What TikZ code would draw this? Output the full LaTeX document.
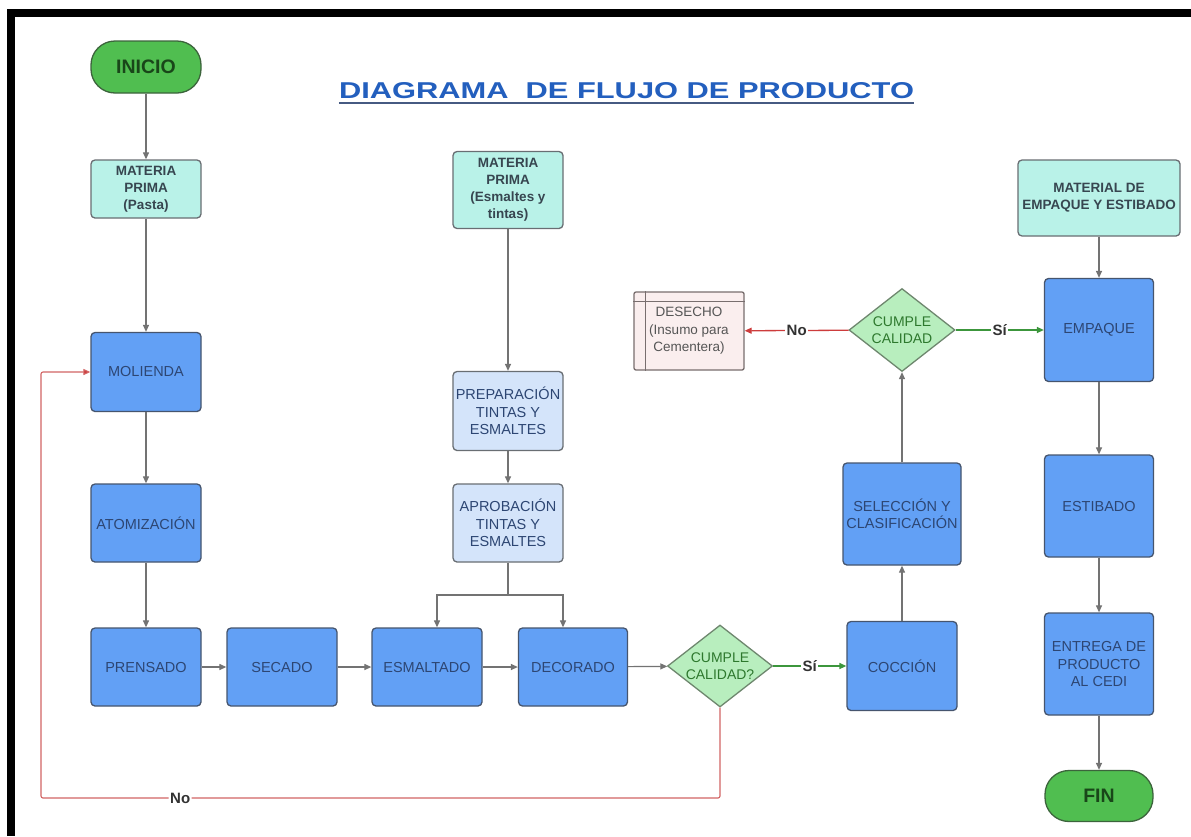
\documentclass[tikz,border=0pt]{standalone}
\usepackage{fontspec}
\usepackage{graphicx}
\setmainfont{Liberation Sans}
\usetikzlibrary{shapes.geometric,arrows.meta}

\definecolor{procblue}{RGB}{98,160,245}
\definecolor{procborder}{RGB}{70,85,110}
\definecolor{proctext}{RGB}{45,70,115}
\definecolor{matcyan}{RGB}{185,242,232}
\definecolor{lightblue}{RGB}{212,228,250}
\definecolor{grayborder}{RGB}{105,110,115}
\definecolor{mattext}{RGB}{55,70,80}
\definecolor{diafill}{RGB}{184,238,190}
\definecolor{diaborder}{RGB}{110,135,110}
\definecolor{diatext}{RGB}{45,120,45}
\definecolor{termfill}{RGB}{80,190,80}
\definecolor{termborder}{RGB}{60,100,60}
\definecolor{termtext}{RGB}{25,70,25}
\definecolor{conngray}{RGB}{115,115,115}
\definecolor{connred}{RGB}{205,60,60}
\definecolor{loopred}{RGB}{210,100,100}
\definecolor{conngreen}{RGB}{60,150,60}
\definecolor{titleblue}{RGB}{35,95,190}
\definecolor{titleline}{RGB}{70,90,130}
\definecolor{desfill}{RGB}{250,238,238}
\definecolor{desborder}{RGB}{120,110,110}
\definecolor{destext}{RGB}{85,85,85}
\definecolor{lbltext}{RGB}{50,50,50}

\begin{document}
\begin{tikzpicture}[x=1pt,y=-1pt,
  proc/.style={draw=procborder, fill=procblue, rounded corners=4pt, line width=1.3pt,
    minimum width=110pt, minimum height=78pt, align=center,
    font=\fontsize{14.5}{17.5}\selectfont, text=proctext, inner sep=0pt},
  matbox/.style={draw=grayborder, fill=matcyan, rounded corners=4pt, line width=1.3pt,
    minimum width=110pt, align=center,
    font=\bfseries\fontsize{13.5}{17}\selectfont, text=mattext, inner sep=0pt},
  prepbox/.style={draw=grayborder, fill=lightblue, rounded corners=4pt, line width=1.3pt,
    minimum width=110pt, minimum height=78pt, align=center,
    font=\fontsize{14.5}{17.5}\selectfont, text=proctext, inner sep=0pt},
  decision/.style={diamond, draw=diaborder, fill=diafill, line width=1.3pt, aspect=1.28,
    inner sep=0pt, minimum width=105pt, minimum height=82pt, align=center,
    font=\fontsize{14}{17}\selectfont, text=diatext},
  term/.style={draw=termborder, fill=termfill, rounded corners=24pt, line width=1.3pt,
    minimum width=110pt, minimum height=52pt,
    font=\bfseries\fontsize{19.5}{20}\selectfont, text=termtext, inner sep=0pt},
  desbox/.style={draw=desborder, fill=desfill, rounded corners=2pt, line width=1.3pt,
    minimum width=110pt, minimum height=78pt, align=center,
    font=\fontsize{13.5}{17.5}\selectfont, text=destext, inner sep=0pt},
  conn/.style={draw=conngray, line width=1.2pt, -{Triangle[length=7pt,width=6pt]}},
  conngr/.style={draw=conngreen, line width=1.3pt, -{Triangle[length=7pt,width=6pt]}},
  connrd/.style={draw=connred, line width=1.3pt, -{Triangle[length=7pt,width=6pt]}},
  looprd/.style={draw=loopred, line width=1.1pt, rounded corners=2pt, -{Triangle[length=7pt,width=6pt,fill=connred]}},
  lbl/.style={fill=white, inner sep=1.5pt, font=\bfseries\fontsize{15}{15}\selectfont, text=lbltext}
]
\fill[white] (0,0) rectangle (1191,836);
\useasboundingbox (0,0) rectangle (1191,836);
% frame
\fill[black] (7,9) rectangle (1191,17);
\fill[black] (7,9) rectangle (15,836);

% title
\node[inner sep=0pt, anchor=south, text=titleblue] (title) at (626.5,99)
  {\resizebox{575pt}{16pt}{\bfseries\fontsize{21}{21}\selectfont DIAGRAMA\ \ DE FLUJO DE PRODUCTO}};
\draw[titleline, line width=2pt] ([yshift=-3.5pt]title.south west) -- ([yshift=-3.5pt]title.south east);

% column 1
\node[term] (ini) at (146,67) {INICIO};
\node[matbox, minimum height=58pt] (matP) at (146,189) {MATERIA\\PRIMA\\(Pasta)};
\node[proc, minimum height=79pt] (mol) at (146,372) {MOLIENDA};
\node[proc] (atom) at (146,523) {ATOMIZACIÓN};
\node[proc] (pren) at (146,667) {PRENSADO};
\node[proc] (sec) at (282,667) {SECADO};
\node[proc] (esm) at (427,667) {ESMALTADO};
\node[proc, minimum width=109pt] (deco) at (573,667) {DECORADO};

% middle column
\node[matbox, minimum height=77pt] (matE) at (508,190) {MATERIA\\PRIMA\\(Esmaltes y\\tintas)};
\node[prepbox, minimum height=79pt] (prep) at (508,411) {PREPARACIÓN\\TINTAS Y\\ESMALTES};
\node[prepbox] (apro) at (508,523) {APROBACIÓN\\TINTAS Y\\ESMALTES};

% quality 1 and firing
\node[decision] (dia1) at (720,666) {CUMPLE\\CALIDAD?};
\node[proc, minimum height=89pt] (cocc) at (902,666) {COCCIÓN};
\node[proc, minimum width=118pt, minimum height=102pt] (sel) at (902,514) {SELECCIÓN Y\\CLASIFICACIÓN};
\node[decision, minimum width=106pt, minimum height=83pt] (dia2) at (902,330) {CUMPLE\\CALIDAD};
\node[desbox] (des) at (689,331) {DESECHO\\(Insumo para\\Cementera)};
\draw[desborder, line width=1.1pt] ([xshift=12pt]des.north west) -- ([xshift=12pt]des.south west);
\draw[desborder, line width=1.1pt] ([yshift=-10pt]des.north west) -- ([yshift=-10pt]des.north east);

% right column
\node[matbox, minimum width=162pt, minimum height=76pt] (matM) at (1099,198) {MATERIAL DE\\EMPAQUE Y ESTIBADO};
\node[proc, minimum width=109pt, minimum height=103pt] (emp) at (1099,330) {EMPAQUE};
\node[proc, minimum width=109pt, minimum height=102pt] (est) at (1099,506) {ESTIBADO};
\node[proc, minimum width=109pt, minimum height=102pt] (ent) at (1099,664) {ENTREGA DE\\PRODUCTO\\AL CEDI};
\node[term, minimum width=108pt, minimum height=51pt] (fin) at (1099,796) {FIN};

% connectors column 1
\draw[conn] (ini) -- (matP);
\draw[conn] (matP) -- (mol);
\draw[conn] (mol) -- (atom);
\draw[conn] (atom) -- (pren);
\draw[conn] (pren) -- (sec);
\draw[conn] (sec) -- (esm);
\draw[conn] (esm) -- (deco);
\draw[conn] (deco) -- (dia1);

% middle
\draw[conn] (matE) -- (prep);
\draw[conn] (prep) -- (apro);
\coordinate (split) at (508,595);
\coordinate (dropL) at (437,595);
\coordinate (dropR) at (563,595);
\draw[draw=conngray, line width=1.2pt] (apro.south) -- (split);
\draw[conn] (split) -- (dropL) -- (dropL |- esm.north);
\draw[conn] (split) -- (dropR) -- (dropR |- deco.north);

% quality 1
\draw[conngr] (dia1) -- node[lbl]{Sí} (cocc);
\coordinate (loopA) at (720,798);
\coordinate (loopB) at (41,798);
\draw[looprd] (dia1.south) -- (loopA) -- node[lbl, pos=0.795]{No} (loopB) |- (mol.west);

\draw[conn] (cocc) -- (sel);
\draw[conn] (sel) -- (dia2);
\draw[connrd] (dia2) -- node[lbl]{No} (des);
\draw[conngr] (dia2) -- node[lbl]{Sí} (emp);

% right column
\draw[conn] (matM) -- (emp);
\draw[conn] (emp) -- (est);
\draw[conn] (est) -- (ent);
\draw[conn] (ent) -- (fin);
\end{tikzpicture}
\end{document}
